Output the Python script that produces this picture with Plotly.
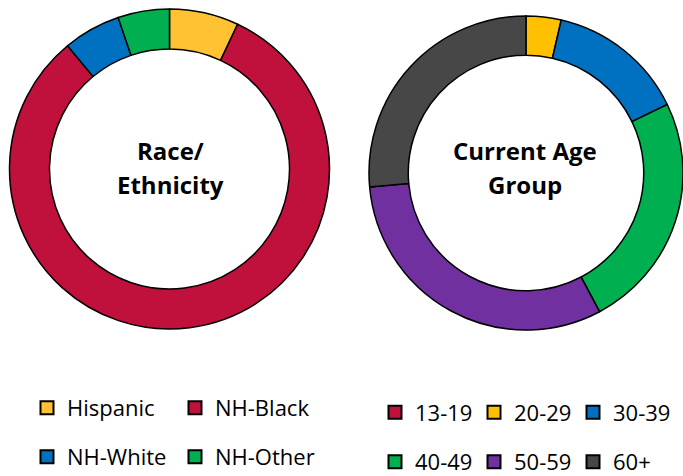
import plotly.graph_objects as go

# ---- data ----
race_labels = ["Hispanic", "NH-Black", "NH-White", "NH-Other"]
race_values = [7.0, 82.0, 5.8, 5.2]
race_colors = ["#FFC233", "#C0103C", "#0070C0", "#00B050"]

age_labels = ["13-19", "20-29", "30-39", "40-49", "50-59", "60+"]
age_values = [0, 3.6, 14.2, 24.4, 31.3, 26.4]
age_colors = ["#C0103C", "#FFC000", "#0070C0", "#00B050", "#7030A0", "#474747"]

race_title = ["Race/", "Ethnicity"]
age_title = ["Current Age", "Group"]

W, H = 683, 476
FONT = "Open Sans, Lato, sans-serif"


def px_x(p):
    return p / W


def px_y(p):
    return 1 - p / H


fig = go.Figure()

# left donut
fig.add_trace(go.Pie(
    labels=race_labels, values=race_values, hole=0.75, sort=False,
    direction="clockwise", rotation=0, textinfo="none", showlegend=False,
    marker=dict(colors=race_colors, line=dict(color="black", width=1.5)),
    domain=dict(x=[px_x(9.5), px_x(329.5)], y=[px_y(329), px_y(9)]),
))

# right donut
fig.add_trace(go.Pie(
    labels=age_labels, values=age_values, hole=0.75, sort=False,
    direction="clockwise", rotation=0, textinfo="none", showlegend=False,
    marker=dict(colors=age_colors, line=dict(color="black", width=1.5)),
    domain=dict(x=[px_x(369), 1.0], y=[px_y(330), px_y(16)]),
))

# legend entries (legend-only traces, one legend per row)
race_rows = [[0, 1], [2, 3]]
age_rows = [[0, 1, 2], [3, 4, 5]]
legend_ids = ["legend", "legend2", "legend3", "legend4"]

row_specs = [(race_labels, race_colors, r) for r in race_rows] + \
            [(age_labels, age_colors, r) for r in age_rows]

for lg, (labels, colors, idxs) in zip(legend_ids, row_specs):
    for i in idxs:
        fig.add_trace(go.Scatter(
            x=[None], y=[None], mode="markers", name=labels[i],
            marker=dict(symbol="square", size=13, color=colors[i],
                        line=dict(color="black", width=2)),
            legend=lg, showlegend=True, hoverinfo="skip",
        ))

legend_common = dict(
    orientation="h", xanchor="left", yanchor="middle",
    entrywidthmode="pixels", bgcolor="rgba(0,0,0,0)",
    font=dict(family=FONT, size=22, color="black"),
    itemclick=False, itemdoubleclick=False,
)

annotations = []
for title, cx, ys in [(race_title, 170.5, [150, 185]), (age_title, 525, [150, 185])]:
    for line, yy in zip(title, ys):
        annotations.append(dict(
            text="<b>" + line + "</b>", x=px_x(cx), y=px_y(yy),
            xref="paper", yref="paper", xanchor="center", yanchor="middle",
            showarrow=False, font=dict(family=FONT, size=24, color="black"),
        ))

fig.update_layout(
    width=W, height=H,
    margin=dict(l=0, r=0, t=0, b=0, autoexpand=False),
    paper_bgcolor="white", plot_bgcolor="white",
    xaxis=dict(visible=False), yaxis=dict(visible=False),
    legend=dict(x=px_x(27), y=px_y(408), entrywidth=103, **legend_common),
    legend2=dict(x=px_x(27), y=px_y(457), entrywidth=103, **legend_common),
    legend3=dict(x=px_x(375), y=px_y(412.5), entrywidth=54, **legend_common),
    legend4=dict(x=px_x(375), y=px_y(462), entrywidth=54, **legend_common),
    annotations=annotations,
)

fig.write_html(
    "out.html",
    config={"displayModeBar": False},
    post_script="document.body.style.margin='0';document.body.style.padding='0';",
)
